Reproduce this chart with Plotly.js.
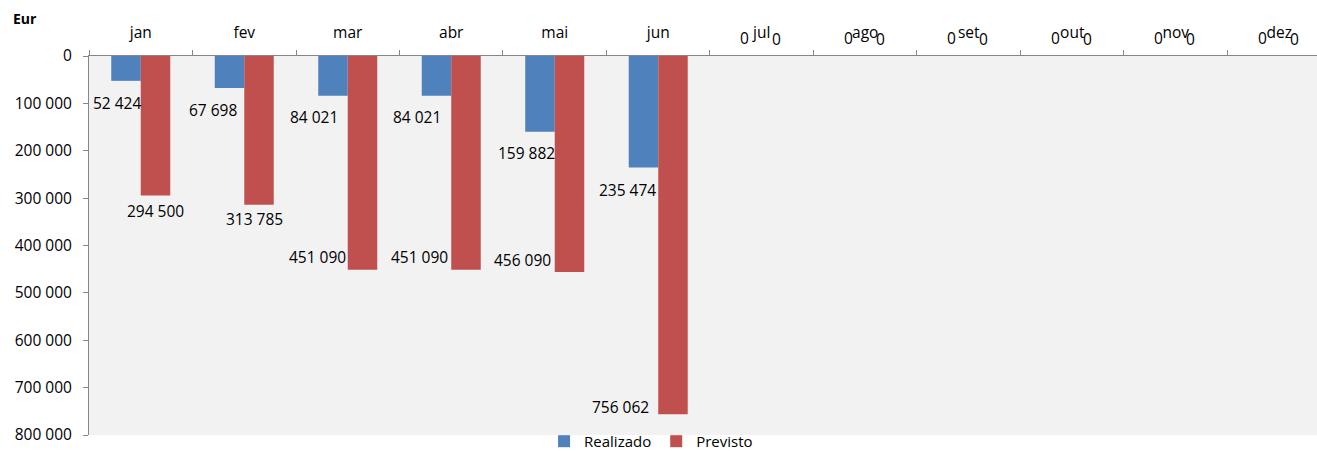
<!DOCTYPE html>
<html>
<head>
<meta charset="utf-8">
<script src="https://cdn.plot.ly/plotly-3.0.1.min.js"></script>
<style>html,body{margin:0;padding:0;background:#fff;}#chart{width:1317px;height:451px;}</style>
</head>
<body>
<div id="chart"></div>
<script>
// ---- data ----
var months = ['jan','fev','mar','abr','mai','jun','jul','ago','set','out','nov','dez'];
var realizado = [52424, 67698, 84021, 84021, 159882, 235474, 0, 0, 0, 0, 0, 0];
var previsto  = [294500, 313785, 451090, 451090, 456090, 756062, 0, 0, 0, 0, 0, 0];
var seriesNames = ['Realizado', 'Previsto'];
var yTicks = [0, 100000, 200000, 300000, 400000, 500000, 600000, 700000, 800000];

// ---- label placement (pixels, relative to category centre / bar end) ----
var realDx = [-24, -31, -34, -34, -28, -31, -17, -17, -17, -17, -17, -17];
var realDy = [22, 22, 21, 21, 21, 22, -18, -18, -18, -18, -18, -18];
var prevDx = [15, 10, -30, -32, -32, -38, 15, 15, 15, 15, 15, 15];
var prevDy = [15.5, 14, -13, -13, -12, -7, -17, -17, -17, -17, -17, -17];

function fmt(v){ return String(v).replace(/\B(?=(\d{3})+(?!\d))/g, ' '); }

var FONT = 'Open Sans, Noto Sans, sans-serif';
var FS = 15.5;

var traces = [
  {type:'bar', name:seriesNames[0], x:months, y:realizado,
   marker:{color:'#4f81bd'}, hoverinfo:'none'},
  {type:'bar', name:seriesNames[1], x:months, y:previsto,
   marker:{color:'#c0504d'}, hoverinfo:'none'}
];

var annotations = [];
months.forEach(function(m, i){
  annotations.push({x:m, y:realizado[i], xref:'x', yref:'y', text:fmt(realizado[i]),
    showarrow:false, xanchor:'center', yanchor:'middle',
    xshift:realDx[i], yshift:-realDy[i], font:{family:FONT, size:FS, color:'#000'}});
  annotations.push({x:m, y:previsto[i], xref:'x', yref:'y', text:fmt(previsto[i]),
    showarrow:false, xanchor:'center', yanchor:'middle',
    xshift:prevDx[i], yshift:-prevDy[i], font:{family:FONT, size:FS, color:'#000'}});
});

var layout = {
  width:1317, height:451,
  margin:{l:89, r:0, t:56, b:16, autoexpand:false},
  paper_bgcolor:'#ffffff',
  plot_bgcolor:'#f2f2f2',
  separators:', ',
  font:{family:FONT, size:FS, color:'#000'},
  title:{text:'<b>Eur</b>', x:13/1317, xanchor:'left', xref:'container',
         y:1-19/451, yanchor:'middle', yref:'container',
         font:{family:FONT, size:14, color:'#000'}},
  barmode:'group', bargap:0.43, bargroupgap:0,
  showlegend:true,
  legend:{orientation:'h', x:0.4577, xanchor:'center', y:-0.017, yanchor:'middle',
          font:{family:FONT, size:15, color:'#000'}, bgcolor:'rgba(0,0,0,0)',
          itemwidth:30, traceorder:'normal', tracegroupgap:0},
  xaxis:{type:'category', side:'top', range:[-0.5, 11.365],
         tickson:'boundaries', ticks:'outside', ticklen:5, tickcolor:'#868686',
         showline:true, linecolor:'#868686', linewidth:1, showgrid:false,
         zeroline:false, ticklabelstandoff:11, fixedrange:true,
         tickfont:{family:FONT, size:FS, color:'#000'}},
  yaxis:{range:[800000, 0], tickvals:yTicks, tickformat:',d',
         ticks:'outside', ticklen:5, tickcolor:'#868686',
         showline:true, linecolor:'#868686', linewidth:1, showgrid:false,
         zeroline:false, ticklabelstandoff:8, fixedrange:true,
         tickfont:{family:FONT, size:FS, color:'#000'}},
  annotations:annotations
};

Plotly.newPlot('chart', traces, layout, {displayModeBar:false, staticPlot:true});
</script>
</body>
</html>
